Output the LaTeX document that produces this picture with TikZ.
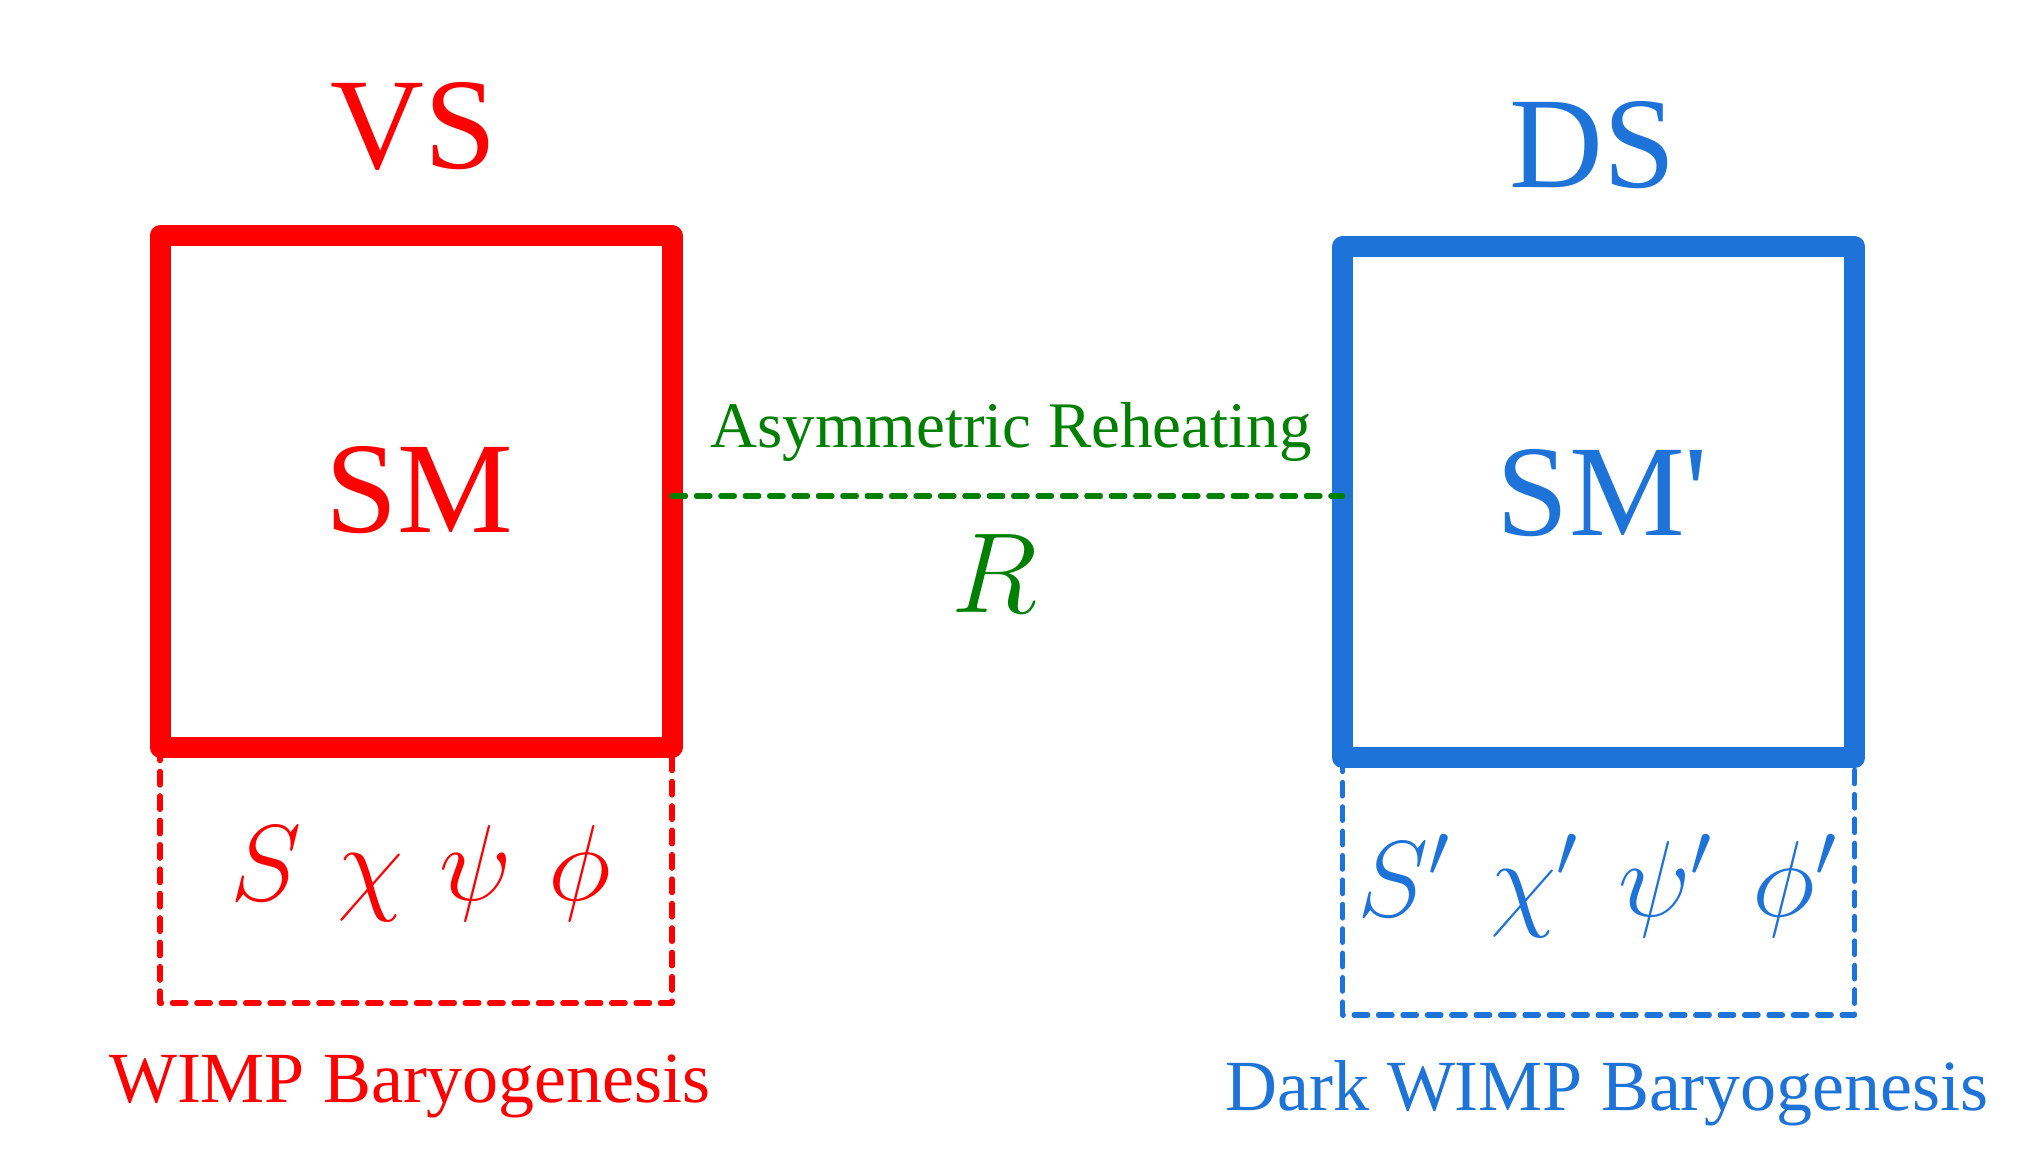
\RequirePackage{fix-cm}
\documentclass[tikz,border=0pt]{standalone}
\usepackage{fontspec}
\setmainfont{Liberation Serif}[Ligatures=TeXOff]
\definecolor{vsred}{RGB}{255,0,0}
\definecolor{dsblue}{RGB}{30,115,216}
\definecolor{rgreen}{RGB}{0,128,0}
\begin{document}
\begin{tikzpicture}[x=0.5pt,y=-0.5pt,
  sysbox/.style={draw,line width=10.5pt,line join=round,minimum width=256pt,minimum height=255.5pt,outer sep=0pt,inner sep=0pt},
  subbox/.style={line width=2.6pt,line cap=round,line join=round,dash pattern=on 6.8pt off 5.4pt},
  bigtext/.style={anchor=base,inner sep=0pt,font=\fontsize{65pt}{70pt}\selectfont},
  mathtext/.style={anchor=base,inner sep=0pt,font=\fontsize{54pt}{60pt}\selectfont},
  captext/.style={anchor=base,inner sep=0pt,font=\fontsize{36pt}{40pt}\selectfont},
]
\useasboundingbox (0,0) rectangle (2019,1171);

% dashed sub-boxes
\draw[subbox,vsred] (160,747) rectangle (672,1003);
\draw[subbox,dsblue] (1342.7,758) rectangle (1854.8,1015);

% main boxes
\node[sysbox,draw=vsred] (vsbox) at (416,491.5) {};
\node[sysbox,draw=dsblue] (dsbox) at (1598.75,502.3) {};

% connector
\coordinate (gl) at (vsbox.east |- 0,496);
\coordinate (gr) at (dsbox.west |- 0,496);
\draw[subbox,rgreen] (gl) -- (gr);

% labels
\node[bigtext,text=vsred] (vs) at (414,169) {VS};
\node[bigtext,text=dsblue] (ds) at (1592.6,188) {DS};
\node[bigtext,text=vsred] (sm) at (419,532) {SM};
\node[bigtext,text=dsblue] (smp) at (1602.5,536) {SM'};

\node[anchor=base,inner sep=0pt,text=rgreen,font=\fontsize{32.5pt}{36pt}\selectfont] (asym) at (1011,448) {Asymmetric Reheating};
\node[anchor=base,inner sep=0pt,text=rgreen,font=\fontsize{57pt}{62pt}\selectfont] (rr) at (994,612) {$R$};

\node[mathtext,text=vsred] (vsf) at (420.5,900) {$S\hspace{18pt}\chi\hspace{18pt}\psi\hspace{18pt}\phi$};
\node[mathtext,text=dsblue] (dsf) at (1597,916) {$S'\hspace{20pt}\chi'\hspace{20pt}\psi'\hspace{20pt}\phi'$};

\node[captext,text=vsred] (wimp) at (410,1102) {WIMP Baryogenesis};
\node[captext,text=dsblue] (dwimp) at (1607,1110) {Dark WIMP Baryogenesis};
\end{tikzpicture}
\end{document}
